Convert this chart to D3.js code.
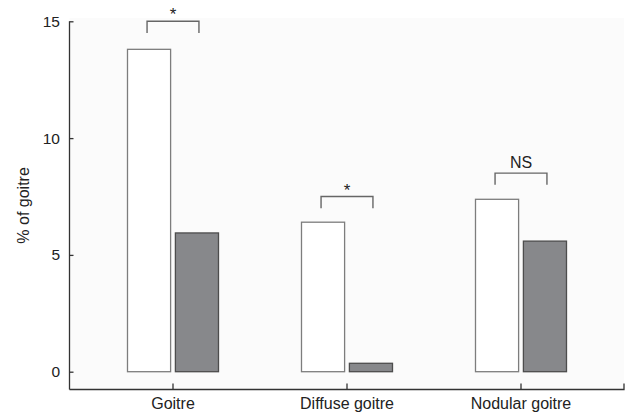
<!DOCTYPE html>
<html>
<head>
<meta charset="utf-8">
<script src="https://cdn.jsdelivr.net/npm/d3@7"></script>
<style>
  html, body { margin: 0; padding: 0; background: #ffffff; }
  svg { display: block; }
  text { font-family: "Liberation Sans", Arial, sans-serif; fill: #222; }
</style>
</head>
<body>
<svg id="chart" width="628" height="414"></svg>
<script>
// Prevalence of goitre per category, two groups
const categories = ["Goitre", "Diffuse goitre", "Nodular goitre"];
const groupOpen = [13.8, 6.4, 7.38];
const groupFilled = [5.94, 0.36, 5.59];
const significance = ["*", "*", "NS"];
const bracketLevels = [14.5, 7.0, 8.0];
const yTicks = [0, 5, 10, 15];

const svg = d3.select("#chart");

const axisLeftX = 69.5;
const axisRightX = 624;
const axisBottomY = 389.5;

const y = d3.scaleLinear().domain([0, 15]).range([371.7, 21.3]);
const x = d3.scaleBand().domain(categories).range([86, 608]);
const xSub = d3.scaleBand().domain(["open", "filled"]).range([41.5, 132.5]).paddingInner(0.1);

// light plot background
svg.append("rect")
  .attr("x", axisLeftX).attr("y", 18)
  .attr("width", axisRightX - axisLeftX).attr("height", axisBottomY - 18)
  .attr("fill", "#fbfbfb");

// bars
const groups = svg.append("g").selectAll("g")
  .data(categories.map((c, i) => ({ c, open: groupOpen[i], filled: groupFilled[i], sig: significance[i], level: bracketLevels[i] })))
  .join("g")
  .attr("transform", d => `translate(${x(d.c)},0)`);

groups.append("rect")
  .attr("x", xSub("open"))
  .attr("width", xSub.bandwidth())
  .attr("y", d => y(d.open))
  .attr("height", d => y(0) - y(d.open))
  .attr("fill", "#ffffff")
  .attr("stroke", "#7d7d7d")
  .attr("stroke-width", 1.3);

groups.append("rect")
  .attr("x", xSub("filled"))
  .attr("width", xSub.bandwidth())
  .attr("y", d => y(d.filled))
  .attr("height", d => y(0) - y(d.filled))
  .attr("fill", "#87888b")
  .attr("stroke", "#4d4d4d")
  .attr("stroke-width", 1.3);

// significance brackets
const cOpen = xSub("open") + xSub.bandwidth() / 2 - 2;
const cFilled = xSub("filled") + xSub.bandwidth() / 2 + 2;
groups.append("path")
  .attr("d", d => {
    const top = y(d.level + 0.5), leg = y(d.level);
    return `M${cOpen},${leg}V${top}H${cFilled}V${leg}`;
  })
  .attr("fill", "none")
  .attr("stroke", "#666")
  .attr("stroke-width", 1.4);

groups.append("text")
  .attr("x", (cOpen + cFilled) / 2)
  .attr("y", d => y(d.level + 0.5) - (d.sig === "*" ? 1 : 5))
  .attr("text-anchor", "middle")
  .style("font-size", d => d.sig === "*" ? "17px" : "16px")
  .text(d => d.sig);

// y axis
const yAxis = d3.axisLeft(y).tickValues(yTicks).tickSizeInner(-4).tickSizeOuter(0).tickPadding(9.5);
const gy = svg.append("g").attr("transform", `translate(${axisLeftX},0)`).call(yAxis);
gy.select(".domain").remove();
gy.selectAll("line").attr("stroke", "#333").attr("stroke-width", 1.3);
gy.selectAll("text").attr("fill", "#222")
  .style("font-size", "15.5px")
  .style("font-family", '"Liberation Sans", Arial, sans-serif');
svg.append("line")
  .attr("x1", axisLeftX).attr("x2", axisLeftX)
  .attr("y1", y(15)).attr("y2", axisBottomY)
  .attr("stroke", "#333").attr("stroke-width", 1.3);

// x axis
const xAxis = d3.axisBottom(x).tickSizeInner(-6).tickSizeOuter(0).tickPadding(8.5);
const gx = svg.append("g").attr("transform", `translate(0,${axisBottomY})`).call(xAxis);
gx.select(".domain").remove();
gx.selectAll("line").attr("stroke", "#333").attr("stroke-width", 1.3);
gx.selectAll("text").attr("fill", "#222")
  .style("font-size", "16px")
  .style("font-family", '"Liberation Sans", Arial, sans-serif');
svg.append("path")
  .attr("d", `M${axisLeftX},${axisBottomY}H${axisRightX}V${axisBottomY - 6}`)
  .attr("fill", "none").attr("stroke", "#333").attr("stroke-width", 1.3);

// y axis title
svg.append("text")
  .attr("transform", `translate(29,${(y(15) + axisBottomY) / 2}) rotate(-90)`)
  .attr("text-anchor", "middle")
  .style("font-size", "16px")
  .text("% of goitre");
</script>
</body>
</html>
